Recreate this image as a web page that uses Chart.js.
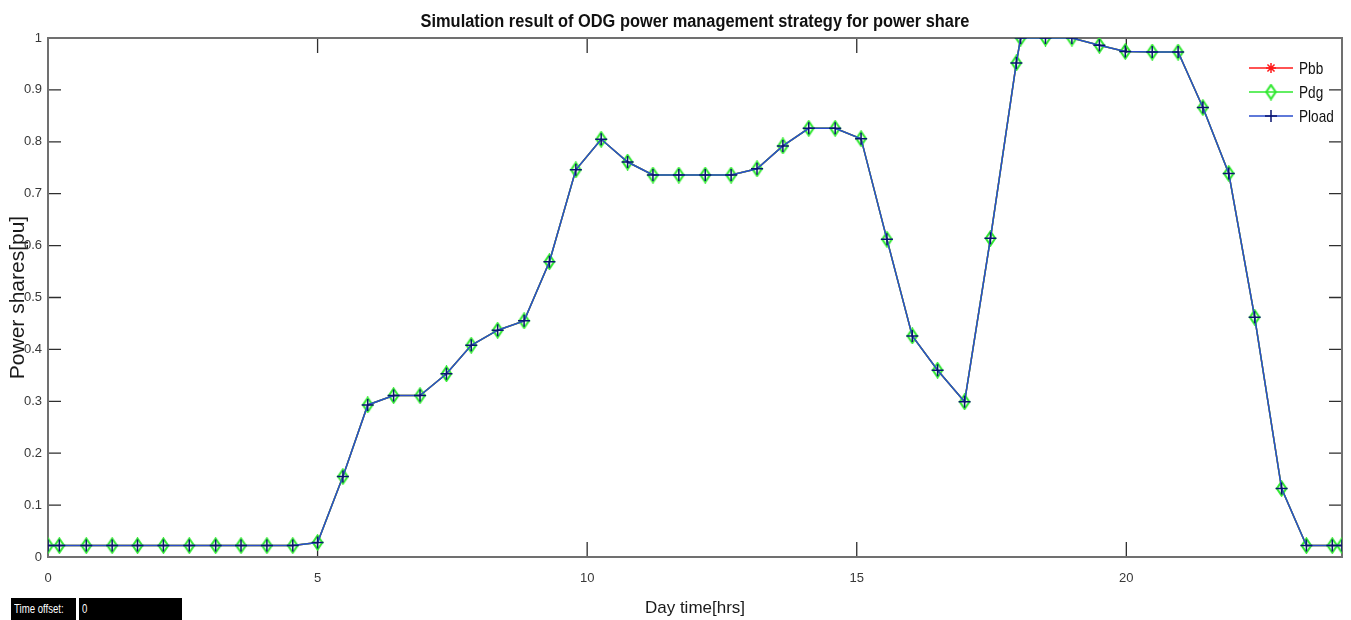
<!DOCTYPE html>
<html>
<head>
<meta charset="utf-8">
<title>ODG power share</title>
<script src="https://cdn.jsdelivr.net/npm/chart.js@4.4.1/dist/chart.umd.min.js"></script>
<style>
  html, body { margin: 0; padding: 0; background: #fff; }
  #wrap { position: relative; width: 1351px; height: 620px; }
  .scope-box {
    position: absolute; top: 598px; height: 22px; background: #000; color: #fff;
    font: 12px 'Liberation Sans', Arial, sans-serif;
    line-height: 22px; padding-left: 3px; box-sizing: border-box; overflow: hidden;
  }
  .scope-box span { display: inline-block; transform: scaleX(0.8); transform-origin: left center; white-space: nowrap; }
</style>
</head>
<body>
<div id="wrap">
  <canvas id="shareChart"></canvas>
  <div class="scope-box" style="left:11px;width:65px;"><span>Time offset:</span></div>
  <div class="scope-box" style="left:79px;width:103px;"><span>0</span></div>
</div>
<script>
// sample times over the day [hrs]
const hours = [
  0, 0.21, 0.71, 1.19, 1.66, 2.14, 2.62, 3.11, 3.58, 4.06, 4.54,
  5.0, 5.47, 5.93, 6.41, 6.90, 7.39, 7.85, 8.34, 8.83, 9.30,
  9.79, 10.26, 10.75, 11.22, 11.70, 12.19, 12.67, 13.15, 13.63, 14.11,
  14.60, 15.08, 15.56, 16.03, 16.50, 17.0, 17.48, 17.96, 18.04, 18.50,
  18.99, 19.50, 19.98, 20.48, 20.96, 21.42, 21.90, 22.38, 22.88, 23.34,
  23.82, 24.0
];

// load demand [pu]
const ploadShare = [
  0.022, 0.022, 0.022, 0.022, 0.022, 0.022, 0.022, 0.022, 0.022, 0.022, 0.022,
  0.028, 0.155, 0.293, 0.311, 0.311, 0.353, 0.408, 0.437, 0.455, 0.569,
  0.746, 0.805, 0.761, 0.736, 0.736, 0.736, 0.736, 0.748, 0.792, 0.826,
  0.826, 0.806, 0.612, 0.426, 0.360, 0.299, 0.614, 0.952, 1.0, 1.0,
  1.0, 0.986, 0.974, 0.973, 0.973, 0.866, 0.739, 0.462, 0.132, 0.022,
  0.022, 0.022
];

// diesel generator output [pu] - covers the whole load
const pdgShare = [
  0.022, 0.022, 0.022, 0.022, 0.022, 0.022, 0.022, 0.022, 0.022, 0.022, 0.022,
  0.028, 0.155, 0.293, 0.311, 0.311, 0.353, 0.408, 0.437, 0.455, 0.569,
  0.746, 0.805, 0.761, 0.736, 0.736, 0.736, 0.736, 0.748, 0.792, 0.826,
  0.826, 0.806, 0.612, 0.426, 0.360, 0.299, 0.614, 0.952, 1.0, 1.0,
  1.0, 0.986, 0.974, 0.973, 0.973, 0.866, 0.739, 0.462, 0.132, 0.022,
  0.022, 0.022
];

// battery bank [pu] - trace sits under the others
const pbbShare = [
  0.022, 0.022, 0.022, 0.022, 0.022, 0.022, 0.022, 0.022, 0.022, 0.022, 0.022,
  0.028, 0.155, 0.293, 0.311, 0.311, 0.353, 0.408, 0.437, 0.455, 0.569,
  0.746, 0.805, 0.761, 0.736, 0.736, 0.736, 0.736, 0.748, 0.792, 0.826,
  0.826, 0.806, 0.612, 0.426, 0.360, 0.299, 0.614, 0.952, 1.0, 1.0,
  1.0, 0.986, 0.974, 0.973, 0.973, 0.866, 0.739, 0.462, 0.132, 0.022,
  0.022, 0.022
];

const chartTitle = 'Simulation result of ODG power management strategy for power share';
const FONT = "'Liberation Sans', Arial, sans-serif";

const COLORS = {
  pbb: '#ff1a1a',
  pdg: '#2ee82e',
  pload: '#2a4ccc',
  ploadMarker: '#0a1470',
  box: '#707070',
  tick: '#2e2e2e',
  text: '#383838'
};

function toPoints(values) {
  return hours.map((h, i) => ({ x: h, y: values[i] }));
}

// open diamond, taller than wide
function makeDiamond() {
  const c = document.createElement('canvas');
  c.width = 13; c.height = 17;
  const g = c.getContext('2d');
  g.strokeStyle = COLORS.pdg;
  g.lineWidth = 2.1;
  g.beginPath();
  g.moveTo(6.5, 1.5);
  g.lineTo(11.2, 8.5);
  g.lineTo(6.5, 15.5);
  g.lineTo(1.8, 8.5);
  g.closePath();
  g.stroke();
  return c;
}
const diamond = makeDiamond();

function drawStar(ctx, x, y, r, color) {
  ctx.save();
  ctx.strokeStyle = color;
  ctx.lineWidth = 1.5;
  ctx.beginPath();
  for (let k = 0; k < 4; k++) {
    const a = k * Math.PI / 4;
    ctx.moveTo(x - r * Math.cos(a), y - r * Math.sin(a));
    ctx.lineTo(x + r * Math.cos(a), y + r * Math.sin(a));
  }
  ctx.stroke();
  ctx.restore();
}

function drawPlus(ctx, x, y, r, color) {
  ctx.save();
  ctx.strokeStyle = color;
  ctx.lineWidth = 1.5;
  ctx.beginPath();
  ctx.moveTo(x - r, y); ctx.lineTo(x + r, y);
  ctx.moveTo(x, y - r); ctx.lineTo(x, y + r);
  ctx.stroke();
  ctx.restore();
}

// narrow text: regular face squeezed horizontally
function condensedText(ctx, text, x, y, squeeze) {
  ctx.save();
  ctx.translate(x, y);
  ctx.scale(squeeze, 1);
  ctx.fillText(text, 0, 0);
  ctx.restore();
}

// box round the axes with inward tick marks on all four sides
const axesBox = {
  id: 'axesBox',
  beforeDatasetsDraw(chart) {
    const { ctx, chartArea: a, scales: { x, y } } = chart;
    ctx.save();
    ctx.strokeStyle = COLORS.tick;
    ctx.lineWidth = 1.3;
    ctx.beginPath();
    y.ticks.forEach(t => {
      const py = y.getPixelForValue(t.value);
      ctx.moveTo(a.left, py); ctx.lineTo(a.left + 13, py);
      ctx.moveTo(a.right, py); ctx.lineTo(a.right - 13, py);
    });
    x.ticks.forEach(t => {
      const px = x.getPixelForValue(t.value);
      ctx.moveTo(px, a.bottom); ctx.lineTo(px, a.bottom - 15);
      ctx.moveTo(px, a.top); ctx.lineTo(px, a.top + 15);
    });
    ctx.stroke();
    ctx.strokeStyle = COLORS.box;
    ctx.lineWidth = 2;
    ctx.strokeRect(a.left, a.top, a.right - a.left, a.bottom - a.top);
    ctx.restore();
  }
};

// legend in the top right corner of the axes
const innerLegend = {
  id: 'innerLegend',
  afterDatasetsDraw(chart) {
    const { ctx, chartArea: a } = chart;
    const items = [
      { label: 'Pbb', color: COLORS.pbb, mark: (cx, cy) => drawStar(ctx, cx, cy, 5, COLORS.pbb) },
      { label: 'Pdg', color: COLORS.pdg, mark: (cx, cy) => ctx.drawImage(diamond, cx - diamond.width / 2, cy - diamond.height / 2) },
      { label: 'Pload', color: COLORS.pload, mark: (cx, cy) => drawPlus(ctx, cx, cy, 6, COLORS.ploadMarker) }
    ];
    ctx.save();
    ctx.font = '17px ' + FONT;
    ctx.textBaseline = 'middle';
    items.forEach((it, i) => {
      const cy = a.top + 30 + i * 24;
      const x0 = a.right - 93, x1 = a.right - 49;
      ctx.strokeStyle = it.color;
      ctx.lineWidth = 1.5;
      ctx.beginPath();
      ctx.moveTo(x0, cy); ctx.lineTo(x1, cy);
      ctx.stroke();
      it.mark((x0 + x1) / 2, cy);
      ctx.fillStyle = '#111';
      condensedText(ctx, it.label, a.right - 43, cy + 1, 0.8);
    });
    ctx.restore();
  }
};

// title centred over the axes
const axesTitle = {
  id: 'axesTitle',
  afterDraw(chart) {
    const { ctx, chartArea: a } = chart;
    ctx.save();
    ctx.font = 'bold 18px ' + FONT;
    ctx.fillStyle = '#111';
    ctx.textAlign = 'center';
    ctx.textBaseline = 'middle';
    condensedText(ctx, chartTitle, (a.left + a.right) / 2, 22, 0.91);
    ctx.restore();
  }
};

const ctx = document.getElementById('shareChart').getContext('2d');

new Chart(ctx, {
  type: 'line',
  data: {
    // first dataset is drawn last, so Pload ends up on top
    datasets: [
      {
        label: 'Pload',
        data: toPoints(ploadShare),
        borderColor: COLORS.pload,
        borderWidth: 1.5,
        pointStyle: 'cross',
        pointRadius: 6,
        pointBorderWidth: 1.5,
        pointBorderColor: COLORS.ploadMarker,
        clip: 0
      },
      {
        label: 'Pdg',
        data: toPoints(pdgShare),
        borderColor: COLORS.pdg,
        borderWidth: 1.5,
        pointStyle: diamond,
        pointRadius: 6,
        clip: 0
      },
      {
        label: 'Pbb',
        data: toPoints(pbbShare),
        borderColor: COLORS.pbb,
        borderWidth: 1.5,
        pointStyle: 'star',
        pointRadius: 0,
        clip: 0
      }
    ]
  },
  options: {
    responsive: true,
    maintainAspectRatio: false,
    animation: false,
    layout: { padding: { top: 38, right: 9, left: 0, bottom: 0 } },
    plugins: {
      legend: { display: false },
      tooltip: { enabled: false },
      title: { display: false }
    },
    elements: { line: { tension: 0 } },
    scales: {
      x: {
        type: 'linear',
        min: 0,
        max: 24,
        grid: { display: false, drawTicks: false },
        border: { display: false },
        ticks: {
          stepSize: 5,
          includeBounds: false,
          padding: 14,
          color: COLORS.text,
          font: { family: FONT, size: 13 }
        },
        title: {
          display: true,
          text: 'Day time[hrs]',
          color: '#1a1a1a',
          font: { family: FONT, size: 17 },
          padding: { top: 0, bottom: 1 }
        },
        afterFit(scale) { scale.height = 63; }
      },
      y: {
        min: 0,
        max: 1,
        grid: { display: false, drawTicks: false },
        border: { display: false },
        ticks: {
          stepSize: 0.1,
          padding: 6,
          color: COLORS.text,
          font: { family: FONT, size: 13 },
          callback: v => String(Number(v.toFixed(1)))
        },
        title: {
          display: true,
          text: 'Power shares[pu]',
          color: '#1a1a1a',
          font: { family: FONT, size: 21 },
          padding: { top: 6, bottom: 0 }
        },
        afterFit(scale) { scale.width = 48; }
      }
    }
  },
  plugins: [axesBox, innerLegend, axesTitle]
});
</script>
</body>
</html>
